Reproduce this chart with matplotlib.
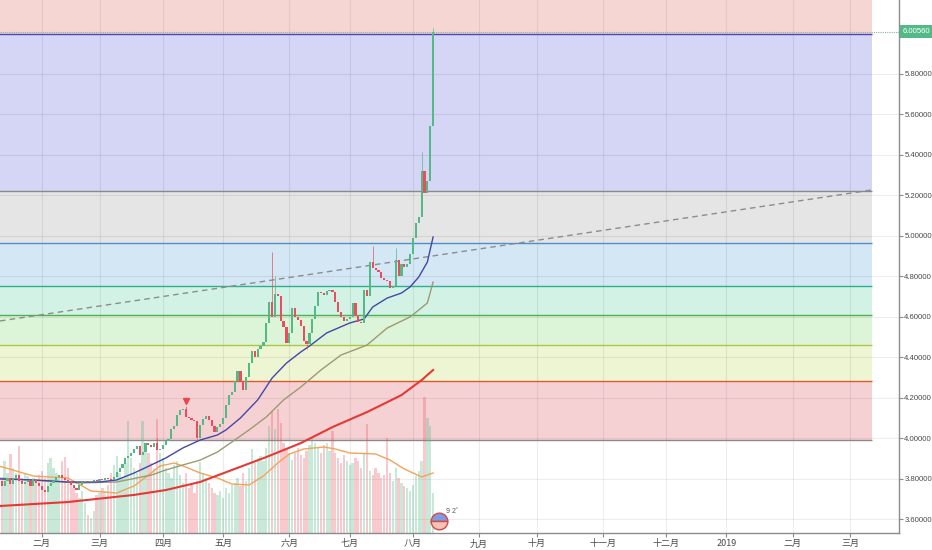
import matplotlib
matplotlib.use('Agg')
import matplotlib.pyplot as plt
import numpy as np
import pandas as pd
from matplotlib.patches import Rectangle

plt.rcParams['font.family'] = ['Liberation Sans', 'Noto Sans CJK SC', 'DejaVu Sans']

# --- data --------------------------------------------------------------
start_date = '2018-01-11'
axis_end_date = '2019-03-29'
first_open = 3.800

closes = [
    # Jan
    3.790, 3.765, 3.790, 3.805, 3.775, 3.800, 3.815, 3.790, 3.775, 3.785, 3.790, 3.765, 3.800, 3.780, 3.765,
    # Feb
    3.745, 3.735, 3.765, 3.780, 3.790, 3.810, 3.815, 3.805, 3.795, 3.785, 3.770, 3.755, 3.745, 3.770, 3.785,
    3.790, 3.785, 3.790, 3.795, 3.790,
    # Mar
    3.800, 3.795, 3.805, 3.800, 3.795, 3.810, 3.830, 3.850, 3.870, 3.900, 3.910, 3.925, 3.945, 3.960, 3.915,
    3.930, 3.975, 3.965, 3.955, 3.975, 3.940, 3.945,
    # Apr
    3.965, 3.985, 3.995, 4.045, 4.060, 4.115, 4.140, 4.145, 4.105, 4.100, 4.090, 4.085, 4.000, 4.065, 4.095,
    4.110, 4.090, 4.060, 4.030, 4.055, 4.070,
    # May
    4.100, 4.165, 4.210, 4.225, 4.280, 4.330, 4.280, 4.235, 4.300, 4.370, 4.430, 4.400, 4.440, 4.455, 4.475,
    4.570, 4.670, 4.600, 4.710, 4.700, 4.580, 4.550, 4.470,
    # Jun
    4.520, 4.640, 4.600, 4.585, 4.555, 4.480, 4.465, 4.520, 4.590, 4.650, 4.720, 4.715, 4.705, 4.725, 4.730,
    4.720, 4.670, 4.620, 4.600, 4.580, 4.590,
    # Jul
    4.600, 4.665, 4.605, 4.575, 4.570, 4.730, 4.700, 4.870, 4.840, 4.830, 4.820, 4.790, 4.780, 4.775, 4.740,
    4.750, 4.880, 4.800, 4.860, 4.845, 4.860, 4.910,
    # Aug
    4.990, 5.060, 5.090, 5.320, 5.210, 5.270, 5.540, 6.0056,
]

wick_high = {55: 4.000, 65: 4.160, 95: 4.920, 96: 4.800, 130: 4.950, 138: 4.940, 147: 5.410, 151: 6.025}
wick_low = {69: 3.990, 107: 4.440}

volume = [
    50, 55, 72, 60, 79, 65, 60, 87, 55, 60, 57, 52, 55, 50, 58,
    62, 55, 70, 75, 65, 60, 55, 72, 76, 65, 50, 45, 40, 35, 42, 30, 18, 15, 22, 38,
    40, 45, 42, 48, 60, 68, 77, 60, 55, 70, 112, 75, 65, 60, 70, 112, 85, 80, 70, 65, 114, 80,
    75, 65, 60, 55, 68, 72, 58, 50, 60, 45, 48, 40, 52, 71, 60, 55, 50, 45, 40, 38, 42,
    35, 45, 40, 48, 50, 55, 47, 60, 52, 65, 84, 70, 75, 77, 72, 85, 107, 121, 104, 124, 110, 90, 85,
    80, 73, 80, 85, 78, 75, 82, 88, 95, 90, 85, 80, 88, 90, 82, 102, 80, 75, 70, 78, 72,
    68, 70, 75, 72, 65, 80, 109, 62, 58, 65, 60, 55, 58, 95, 60, 52, 65, 55, 50, 47, 45, 42,
    48, 57, 62, 72, 136, 115, 107, 40,
]

vol_ma_x = [0, 12, 24, 29, 32, 41, 47, 53, 56, 61, 65, 70, 76, 81, 87, 92, 97, 101, 106, 113, 117, 122, 131, 136, 141, 147, 151]
vol_ma_y = [67, 57, 55, 47, 42, 40, 47, 60, 67, 70, 66, 60, 55, 49, 48, 57, 70, 79, 84, 86, 84, 80, 79, 73, 64, 56, 60]

ma_fast_x = [0, 12, 24, 35, 41, 47, 53, 58, 64, 70, 76, 79, 84, 90, 95, 100, 105, 108, 114, 122, 127, 130, 135, 140, 143, 146, 149, 151]
ma_fast_y = [3.798, 3.793, 3.783, 3.783, 3.793, 3.827, 3.867, 3.901, 3.951, 3.990, 4.015, 4.040, 4.099, 4.188,
             4.296, 4.370, 4.425, 4.454, 4.519, 4.568, 4.588, 4.647, 4.691, 4.716, 4.746, 4.795, 4.869, 4.993]
ma_mid_x = [0, 28, 41, 53, 58, 64, 70, 76, 81, 87, 93, 99, 105, 112, 119, 128, 135, 143, 146, 149, 151]
ma_mid_y = [3.802, 3.778, 3.783, 3.817, 3.842, 3.867, 3.891, 3.931, 3.980, 4.040, 4.104, 4.188, 4.252, 4.336,
            4.410, 4.459, 4.543, 4.598, 4.632, 4.667, 4.770]
ma_slow_x = [0, 24, 47, 58, 70, 81, 93, 105, 116, 128, 140, 147, 151]
ma_slow_y = [3.664, 3.684, 3.719, 3.743, 3.783, 3.842, 3.906, 3.975, 4.054, 4.128, 4.212, 4.286, 4.336]

fib_prices = [3.990, 4.283, 4.459, 4.607, 4.751, 4.961, 5.221, 5.997, 7.219]
fib_line_colors = ['#8a8a8a', '#dd5a30', '#a9c846', '#4caf50', '#2fb08c', '#4d8fca', '#8a8a8a', '#4b43c0', '#dd5a30']
fib_band_colors = ['#f6d1d4', '#eef5d3', '#dcf4d7', '#d3f2e6', '#d4e7f5', '#e5e5e5', '#d5d5f5', '#f6d6d2']
fib_end = 303.6

trend_x = [0.4, 303.6]
trend_y = [4.578, 5.225]

marker_bar = 65
marker_price = 4.185
last_price = 6.0056
price_ticks = [3.6, 3.8, 4.0, 4.2, 4.4, 4.6, 4.8, 5.0, 5.2, 5.4, 5.6, 5.8]
month_names = ['一月', '二月', '三月', '四月', '五月', '六月', '七月', '八月', '九月', '十月', '十一月', '十二月']

C_UP = '#53b987'
C_DN = '#eb4d5c'
C_TXT = '#4a4a4a'
C_AX = '#8c8c8c'

# --- calendar ------------------------------------------------------------
cal = pd.bdate_range(start_date, axis_end_date)
month_pos, month_lab = [], []
prev = None
for k, d in enumerate(cal):
    if prev is not None and (d.year, d.month) != prev:
        month_pos.append(k)
        month_lab.append(str(d.year) if d.month == 1 else month_names[d.month - 1])
    prev = (d.year, d.month)

idx = np.arange(len(closes))
c = np.array(closes)
o = np.concatenate([[first_open], c[:-1]])
up = c >= o

# --- figure --------------------------------------------------------------
fig = plt.figure(figsize=(9.32, 5.5), dpi=100, facecolor='white')
pos = [0, 17 / 550, 899 / 932, 533 / 550]
ax_bg = fig.add_axes(pos)
ax_vol = fig.add_axes(pos, sharex=ax_bg)
ax = fig.add_axes(pos, sharex=ax_bg, sharey=ax_bg)
for a in (ax_vol, ax):
    a.patch.set_visible(False)
    a.axis('off')

ax_bg.set_xlim(0.4, 313.0)
ax_bg.set_ylim(3.531, 6.163)
ax_vol.set_ylim(0, 533)

# fib bands + levels
for k in range(len(fib_prices) - 1):
    ax_bg.fill_between([0, fib_end], fib_prices[k], fib_prices[k + 1],
                       color=fib_band_colors[k], lw=0, zorder=1)
for p, col in zip(fib_prices, fib_line_colors):
    ax_bg.hlines(p, 0, fib_end, color=col, lw=1, zorder=3)

# grid and axes
ax_bg.yaxis.tick_right()
ax_bg.set_yticks(price_ticks)
ax_bg.set_yticklabels(['%.5f' % t for t in price_ticks])
ax_bg.set_xticks(month_pos)
ax_bg.set_xticklabels(month_lab, family=['Noto Sans CJK SC', 'DejaVu Sans'])
ax_bg.set_axisbelow(False)
ax_bg.grid(True, color='#000000', alpha=0.07, lw=0.8)
ax_bg.tick_params(axis='both', colors=C_AX, labelcolor=C_TXT, labelsize=6.5, length=3, width=0.8)
ax_bg.tick_params(axis='y', pad=0.8, labelsize=5.6)
ax_bg.tick_params(axis='x', pad=1.5)
for s in ['top', 'left']:
    ax_bg.spines[s].set_visible(False)
for s in ['right', 'bottom']:
    ax_bg.spines[s].set_color(C_AX)
    ax_bg.spines[s].set_linewidth(1)

# volume
vcols = [(0.33, 0.73, 0.53, 0.32) if u else (0.92, 0.30, 0.36, 0.30) for u in up]
ax_vol.bar(idx, volume, width=0.8, color=vcols, lw=0, zorder=1)
ax_vol.plot(vol_ma_x, vol_ma_y, color='#f4a35a', lw=1, zorder=2)

# trend line and moving averages
ax.plot(trend_x, trend_y, color='#8c8c8c', lw=1, ls=(0, (4, 3)), zorder=2)
ax.plot(ma_slow_x, ma_slow_y, color='#e53935', lw=1.5, zorder=3)
ax.plot(ma_mid_x, ma_mid_y, color='#9c9a72', lw=1, zorder=3)
ax.plot(ma_fast_x, ma_fast_y, color='#4447a8', lw=1, zorder=3)

# candles
ccols = [C_UP if u else C_DN for u in up]
body_lo = np.minimum(o, c)
body_h = np.maximum(np.abs(c - o), 0.004)
for i, hi in wick_high.items():
    ax.vlines(i, max(o[i], c[i]), hi, color=ccols[i], lw=0.7, alpha=0.7, zorder=4)
for i, lo in wick_low.items():
    ax.vlines(i, lo, min(o[i], c[i]), color=ccols[i], lw=0.7, alpha=0.7, zorder=4)
ax.bar(idx, body_h, bottom=body_lo, width=0.75, color=ccols, lw=0, zorder=5)

ax.plot(marker_bar, marker_price, marker='v', color='#e5484d', ms=4.5, zorder=6)

# last price line + label box on the price scale
ax.axhline(last_price, color='#7fb89a', lw=0.8, ls=(0, (1, 1)), zorder=6)
lp_y = ax_bg.transData.transform((0, last_price))[1]
fig.patches.append(Rectangle((900, lp_y - 6.5), 32, 13, transform=None,
                             facecolor=C_UP, edgecolor='none', figure=fig))
fig.text(916 / 932, lp_y / 550, '%.5f' % last_price, ha='center', va='center',
         fontsize=5.6, color='white')

# event badge
ax.plot(153, 3.590, marker='o', ms=12, mec='#d94848', mew=1, mfc='#7d9be0',
        mfcalt='#f6c4b4', fillstyle='top', zorder=7)
ax.text(155.5, 3.630, '9 2˚', fontsize=5, color='#555555', zorder=7)

fig.savefig('out.png', dpi=100, facecolor='white')
